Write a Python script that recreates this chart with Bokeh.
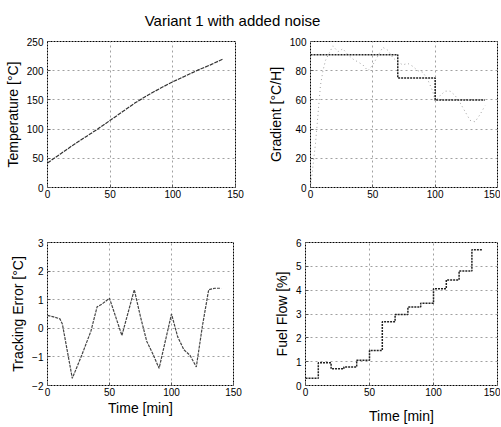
from bokeh.plotting import figure
from bokeh.layouts import column, row
from bokeh.models import Range1d, FixedTicker, Label
from bokeh.embed import file_html
from bokeh.resources import INLINE

# ---------------- data ----------------
title_text = "Variant 1 with added noise"

temp_t = [0, 10, 20, 30, 40, 50, 60, 70, 80, 90, 100, 110, 120, 130, 140]
temp_val = [42, 57, 72, 86, 100, 115, 130, 145, 158, 170, 181, 191, 201, 210, 220]

grad_ref_t = [0, 70, 100, 140]
grad_ref_val = [91, 75, 60, 60]
grad_meas_t = [0, 2, 4, 6, 8, 10, 12, 15, 18, 22, 26, 30, 34, 38, 42, 46, 50, 54, 58, 62,
               66, 70, 74, 78, 82, 86, 90, 94, 98, 100, 104, 108, 112, 116, 120, 124, 128,
               132, 136, 140]
grad_meas_val = [0, 15, 30, 50, 70, 80, 87, 92, 97, 93, 95, 91, 88, 86, 84, 80, 84, 90, 96,
                 94, 89, 86, 84, 85, 83, 80, 79, 74, 66, 59, 63, 66, 66, 63, 58, 52, 46, 45,
                 50, 56]

err_t = [0, 5, 10, 12, 20, 28, 35, 40, 44, 50, 55, 60, 70, 75, 80, 85, 90, 100, 105, 110,
         115, 120, 125, 130, 135, 140]
err_val = [0.45, 0.4, 0.33, 0.15, -1.75, -0.9, -0.1, 0.75, 0.85, 1.05, 0.4, -0.25, 1.35, 0.4,
           -0.45, -0.9, -1.4, 0.5, -0.3, -0.75, -0.95, -1.35, 0.1, 1.35, 1.4, 1.4]

fuel_t = [0, 10, 20, 30, 40, 50, 60, 70, 80, 90, 100, 110, 120, 130, 138]
fuel_val = [0.3, 0.95, 0.7, 0.78, 1.06, 1.47, 2.67, 2.98, 3.29, 3.45, 4.06, 4.43, 4.8, 5.7, 5.7]

x_ticks = [0, 50, 100, 150]
temp_ticks = [0, 50, 100, 150, 200, 250]
grad_ticks = [0, 20, 40, 60, 80, 100]
err_ticks = [-2, -1, 0, 1, 2, 3]
fuel_ticks = [0, 1, 2, 3, 4, 5, 6]

FONT = "Liberation Sans"


def make(width, height, borders, yr, yticks, ylabel, xlabel=None, xlabel_standoff=2):
    l, r, t, b = borders
    p = figure(width=width, height=height, toolbar_location=None, output_backend="svg",
               x_range=Range1d(0, 150), y_range=Range1d(*yr),
               min_border_left=l, min_border_right=r, min_border_top=t, min_border_bottom=b)
    p.background_fill_color = "white"
    p.border_fill_color = "white"
    p.outline_line_color = "black"
    p.outline_line_dash = "2 1"
    p.outline_line_width = 1
    p.xaxis.ticker = FixedTicker(ticks=x_ticks)
    p.yaxis.ticker = FixedTicker(ticks=yticks)
    for ax in (p.xaxis[0], p.yaxis[0]):
        ax.axis_line_color = None
        ax.major_tick_in = 3
        ax.major_tick_out = 0
        ax.major_tick_line_color = "#555555"
        ax.minor_tick_line_color = None
        ax.major_label_text_font = FONT
        ax.major_label_text_font_size = "10px"
        ax.major_label_text_color = "black"
        ax.axis_label_text_font = FONT
        ax.axis_label_text_font_size = "14px"
        ax.axis_label_text_font_style = "normal"
        ax.axis_label_text_color = "black"
    p.yaxis.major_label_standoff = 4
    p.yaxis.axis_label = ylabel
    p.yaxis.axis_label_standoff = 3
    p.xaxis.major_label_standoff = 2
    if xlabel:
        p.xaxis.axis_label = xlabel
        p.xaxis.axis_label_standoff = xlabel_standoff
    p.grid.grid_line_color = "#a0a0a0"
    p.grid.grid_line_dash = "2 3"
    p.grid.grid_line_width = 1
    return p


p1 = make(264, 186, (47, 29, 5, 35), (0, 250), temp_ticks, "Temperature [°C]")
p1.line(temp_t, temp_val, line_color="#333333", line_width=1.2, line_dash="4 1")

p2 = make(236, 186, (40, 3, 5, 35), (0, 100), grad_ticks, "Gradient [°C/H]")
p2.line(grad_meas_t, grad_meas_val, line_color="#a0a0a0", line_width=1, line_dash="1 3")
p2.step(grad_ref_t, grad_ref_val, mode="after", line_color="#222222", line_width=1.5,
        line_dash="2 1")

p3 = make(264, 204, (47, 31, 20, 36), (-2, 3), err_ticks, "Tracking Error [°C]",
          "Time [min]", 1)
p3.line(err_t, err_val, line_color="#444444", line_width=1.2, line_dash="3 1")

p4 = make(236, 204, (41, 3, 20, 36), (0, 6), fuel_ticks, "Fuel Flow [%]",
          "Time [min]", 9)
p4.step(fuel_t, fuel_val, mode="after", line_color="#222222", line_width=1.5,
        line_dash="2 1")

header = figure(width=464, height=36, toolbar_location=None, output_backend="svg",
                min_border=0, x_range=Range1d(0, 464), y_range=Range1d(0, 36))
header.axis.visible = False
header.grid.visible = False
header.outline_line_color = None
header.add_layout(Label(x=232, y=16, text=title_text, text_align="center",
                        text_baseline="middle", text_font=FONT, text_font_size="15px",
                        text_color="black"))

layout = column(header, row(p1, p2), row(p3, p4))

open("out.html", "w").write(file_html(layout, INLINE))
